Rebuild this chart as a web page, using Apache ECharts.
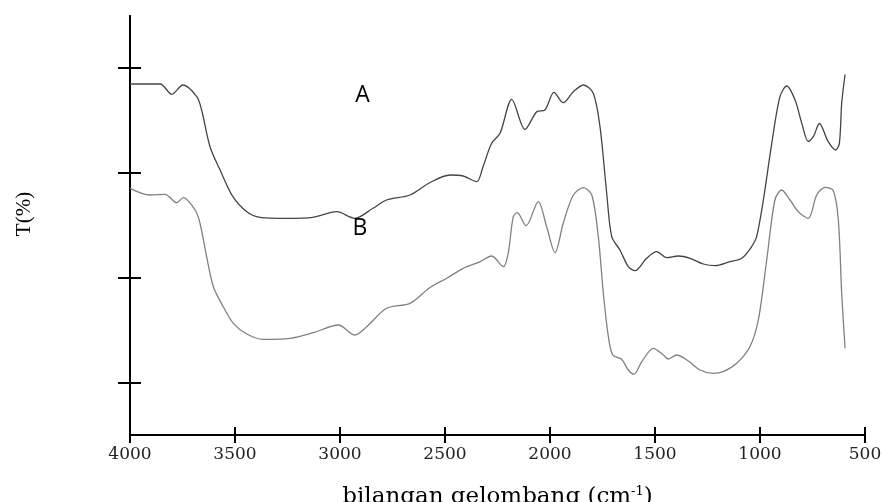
<!DOCTYPE html>
<html>
<head>
<meta charset="utf-8">
<script src="https://cdn.jsdelivr.net/npm/echarts@6/dist/echarts.min.js"></script>
<style>html,body{margin:0;padding:0;background:#fff}#c{width:884px;height:502px}</style>
</head>
<body>
<div id="c"></div>
<script>
// Wavenumber ticks (cm^-1)
var xTicks = [4000, 3500, 3000, 2500, 2000, 1500, 1000, 500];
// Transmittance tick positions (arbitrary units, no labels in the original)
var yTicks = [79, 184, 289, 394];

// Spectrum A (upper curve)
var waveA = [4000,3857,3801,3748,3682,3659,3619,3571,3510,3444,3381,3254,3129,3016,2929,2843,2778,2667,2571,2476,2414,2349,2319,2278,2238,2182,2119,2063,2024,1981,1937,1889,1841,1794,1762,1730,1706,1667,1627,1595,1540,1492,1444,1389,1333,1270,1214,1143,1087,1040,1016,984,944,905,873,833,801,770,746,717,675,640,622,611,595];
var transA = [378,378,367.7,377,365.3,352,315.3,292,265.3,250.3,244.7,243.7,244.7,250.3,243.7,253.7,262,267,279.5,287,286,280.3,295.3,318.7,328.7,362.7,332.7,350.3,352,369.7,359.3,370.3,377,368.7,335.3,268.7,225.3,212,195.3,191.3,203.7,210.3,204.3,206,203.7,198,196.3,200.3,203.7,215.3,225.3,262,318.7,365.3,376,362,338.7,320.5,325.3,338.5,320.3,312,318.7,358.7,387.5];

// Spectrum B (lower curve)
var waveB = [4000,3905,3833,3778,3746,3690,3667,3635,3603,3556,3508,3444,3365,3238,3127,3008,2929,2873,2778,2667,2571,2492,2413,2333,2278,2222,2199,2175,2156,2114,2056,2016,1976,1937,1889,1841,1801,1770,1746,1722,1701,1659,1627,1600,1563,1508,1460,1437,1397,1341,1286,1222,1175,1111,1048,1008,968,929,897,857,818,770,730,690,651,627,611,595];
var transB = [273.7,267,267.7,259.3,264.3,252,239,205.3,175.3,155.3,138.7,128,122.7,123.7,129.3,137,127,135.3,153.7,158.7,174.5,183.7,193.7,200.3,206,195.3,208.7,245.3,249.3,236.3,260.3,235.3,209.3,238.7,267,274.3,267,225.3,168.7,125.3,107,102.7,92,87.7,100.3,113.7,107,103,107,101,92,88.7,90.3,98.7,115.3,142,202,262,272,262,250.3,243.7,267,274.7,271.3,242,168.7,113.7];

// Curve labels and their positions in data coordinates
var labelA = {text: 'A', wave: 2893, trans: 367};
var labelB = {text: 'B', wave: 2905, trans: 234};

function zip(xs, ys) { return xs.map(function (x, i) { return [x, ys[i]]; }); }

var chart = echarts.init(document.getElementById('c'), null, {renderer: 'canvas'});

var serif = 'DejaVu Serif';
var xMin = 500, xMax = 4000, yMin = 27, yMax = 446;

function xAxisDef(inside, showLabel) {
  return {
    type: 'value', min: xMin, max: xMax, interval: 500, inverse: true, position: 'bottom',
    axisLine: {show: true, lineStyle: {color: '#000', width: 2}},
    axisTick: {show: true, inside: inside, length: 8, lineStyle: {color: '#000', width: 2}},
    axisLabel: {show: showLabel, margin: 11, color: '#222', fontFamily: serif, fontSize: 17,
      customValues: xTicks, formatter: function (v) { return String(v); }},
    splitLine: {show: false},
    name: showLabel ? 'bilangan gelombang (cm{sup|-1})' : '',
    nameLocation: 'middle', nameGap: 50,
    nameTextStyle: {color: '#000', fontFamily: serif, fontSize: 23,
      rich: {sup: {fontFamily: serif, fontSize: 13, verticalAlign: 'top', padding: [0, 0, 12, 0], color: '#000'}}}
  };
}
function yAxisDef(inside, len) {
  return {
    type: 'value', min: yMin, max: yMax, position: 'left',
    axisLine: {show: true, lineStyle: {color: '#000', width: 2}},
    axisTick: {show: true, inside: inside, length: len, customValues: yTicks, lineStyle: {color: '#000', width: 2}},
    axisLabel: {show: false},
    splitLine: {show: false}
  };
}

function curveLabel(l) {
  return {
    symbol: 'rect', symbolSize: [1, 1], silent: true, animation: false,
    itemStyle: {color: 'rgba(0,0,0,0)'},
    label: {show: true, position: 'inside', formatter: l.text, color: '#000', fontFamily: 'Open Sans', fontSize: 23},
    data: [{coord: [l.wave, l.trans]}]
  };
}

chart.setOption({
  animation: false,
  backgroundColor: '#fff',
  grid: {left: 130, right: 19, top: 16, bottom: 67, containLabel: false, outerBoundsMode: 'none'},
  xAxis: [xAxisDef(false, true), xAxisDef(true, false)],
  yAxis: [yAxisDef(false, 12), yAxisDef(true, 11)],
  graphic: [{
    type: 'text', x: 24, y: 214, rotation: Math.PI / 2,
    style: {text: 'T(%)', fill: '#000', font: '21px "Liberation Serif"', textAlign: 'center', textVerticalAlign: 'middle'}
  }],
  series: [
    {type: 'line', name: 'A', xAxisIndex: 0, yAxisIndex: 0, data: zip(waveA, transA),
      showSymbol: false, smooth: 0.3, lineStyle: {color: '#444', width: 1.3}, markPoint: curveLabel(labelA)},
    {type: 'line', name: 'B', xAxisIndex: 0, yAxisIndex: 0, data: zip(waveB, transB),
      showSymbol: false, smooth: 0.3, lineStyle: {color: '#808080', width: 1.3}, markPoint: curveLabel(labelB)}
  ]
});
</script>
</body>
</html>
